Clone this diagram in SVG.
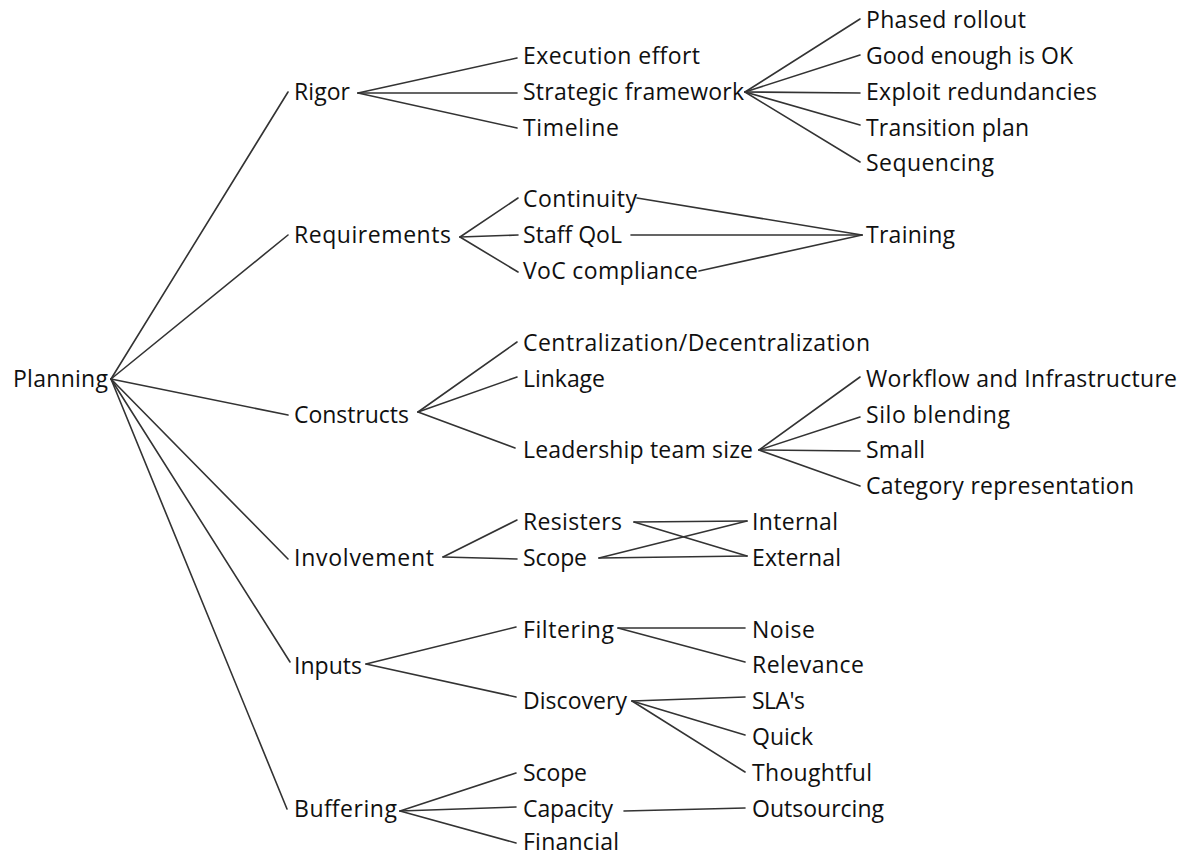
<svg xmlns="http://www.w3.org/2000/svg" width="1186" height="854" viewBox="0 0 1186 854">
  <style>
    .lbl { font-family: "Open Sans", "Noto Sans", "Liberation Sans", sans-serif; font-size: 23px; fill: #101010; }
    .edge { stroke: #333333; stroke-width: 1.6; fill: none; stroke-linecap: round; }
  </style>
  <rect width="1186" height="854" fill="#ffffff"/>

  <!-- connectors -->
  <g id="connectors" class="edge">
    <!-- Planning to first level -->
    <line x1="111" y1="379" x2="288" y2="92"/>
    <line x1="111" y1="379" x2="288" y2="235"/>
    <line x1="111" y1="379" x2="288" y2="415"/>
    <line x1="111" y1="379" x2="288" y2="559"/>
    <line x1="111" y1="379" x2="290" y2="662"/>
    <line x1="111" y1="379" x2="287" y2="809"/>
    <!-- Rigor -->
    <line x1="358" y1="93" x2="517" y2="58"/>
    <line x1="358" y1="93" x2="517" y2="93"/>
    <line x1="358" y1="93" x2="517" y2="128"/>
    <!-- Strategic framework -->
    <line x1="745" y1="92" x2="860" y2="19"/>
    <line x1="745" y1="92" x2="860" y2="55"/>
    <line x1="745" y1="92" x2="860" y2="93"/>
    <line x1="745" y1="92" x2="860" y2="125"/>
    <line x1="745" y1="92" x2="860" y2="162"/>
    <!-- Requirements -->
    <line x1="460" y1="237" x2="518" y2="198"/>
    <line x1="460" y1="237" x2="518" y2="235"/>
    <line x1="460" y1="237" x2="518" y2="272"/>
    <!-- into Training -->
    <line x1="637" y1="198" x2="862" y2="235"/>
    <line x1="631" y1="235" x2="862" y2="235"/>
    <line x1="699" y1="271" x2="862" y2="235"/>
    <!-- Constructs -->
    <line x1="418" y1="412" x2="517" y2="342"/>
    <line x1="418" y1="412" x2="517" y2="377"/>
    <line x1="418" y1="412" x2="515" y2="448"/>
    <!-- Leadership team size -->
    <line x1="759" y1="450" x2="860" y2="377"/>
    <line x1="759" y1="450" x2="860" y2="417"/>
    <line x1="759" y1="450" x2="860" y2="451"/>
    <line x1="759" y1="450" x2="860" y2="486"/>
    <!-- Involvement -->
    <line x1="443" y1="557" x2="517" y2="520"/>
    <line x1="443" y1="557" x2="517" y2="559"/>
    <!-- Resisters / Scope crossing -->
    <line x1="634" y1="522" x2="747" y2="521"/>
    <line x1="634" y1="522" x2="747" y2="556"/>
    <line x1="599" y1="558" x2="747" y2="521"/>
    <line x1="599" y1="558" x2="747" y2="556"/>
    <!-- Inputs -->
    <line x1="366" y1="664" x2="516" y2="627"/>
    <line x1="366" y1="664" x2="516" y2="697"/>
    <!-- Filtering -->
    <line x1="618" y1="628" x2="745" y2="628"/>
    <line x1="618" y1="628" x2="745" y2="662"/>
    <!-- Discovery -->
    <line x1="632" y1="701" x2="745" y2="697"/>
    <line x1="632" y1="701" x2="745" y2="735"/>
    <line x1="632" y1="701" x2="745" y2="772"/>
    <!-- Buffering -->
    <line x1="400" y1="811" x2="516" y2="773"/>
    <line x1="400" y1="811" x2="516" y2="807"/>
    <line x1="400" y1="811" x2="516" y2="843"/>
    <!-- Capacity -->
    <line x1="624" y1="811" x2="745" y2="808"/>
  </g>

  <!-- root -->
  <g id="planning"><text class="lbl" x="13" y="387" textLength="95">Planning</text></g>

  <!-- first level -->
  <g id="rigor"><text class="lbl" x="294" y="100" textLength="56">Rigor</text></g>
  <g id="requirements"><text class="lbl" x="294" y="243" textLength="157">Requirements</text></g>
  <g id="constructs"><text class="lbl" x="294" y="423" textLength="115">Constructs</text></g>
  <g id="involvement"><text class="lbl" x="294" y="566" textLength="140">Involvement</text></g>
  <g id="inputs"><text class="lbl" x="294" y="674" textLength="68">Inputs</text></g>
  <g id="buffering"><text class="lbl" x="294" y="817" textLength="103">Buffering</text></g>

  <!-- Rigor branch -->
  <g id="execution-effort"><text class="lbl" x="523" y="64" textLength="177">Execution effort</text></g>
  <g id="strategic-framework"><text class="lbl" x="523" y="100" textLength="221">Strategic framework</text></g>
  <g id="timeline"><text class="lbl" x="523" y="136" textLength="96">Timeline</text></g>
  <g id="phased-rollout"><text class="lbl" x="866" y="28" textLength="160">Phased rollout</text></g>
  <g id="good-enough"><text class="lbl" x="866" y="64" textLength="207">Good enough is OK</text></g>
  <g id="exploit-redundancies"><text class="lbl" x="866" y="100" textLength="231">Exploit redundancies</text></g>
  <g id="transition-plan"><text class="lbl" x="866" y="136" textLength="163">Transition plan</text></g>
  <g id="sequencing"><text class="lbl" x="866" y="171" textLength="128">Sequencing</text></g>

  <!-- Requirements branch -->
  <g id="continuity"><text class="lbl" x="523" y="207" textLength="114">Continuity</text></g>
  <g id="staff-qol"><text class="lbl" x="523" y="243" textLength="99">Staff QoL</text></g>
  <g id="voc-compliance"><text class="lbl" x="523" y="279" textLength="175">VoC compliance</text></g>
  <g id="training"><text class="lbl" x="866" y="243" textLength="89">Training</text></g>

  <!-- Constructs branch -->
  <g id="centralization"><text class="lbl" x="523" y="351" textLength="347">Centralization/Decentralization</text></g>
  <g id="linkage"><text class="lbl" x="523" y="387" textLength="82">Linkage</text></g>
  <g id="leadership-team-size"><text class="lbl" x="523" y="458" textLength="230">Leadership team size</text></g>
  <g id="workflow"><text class="lbl" x="866" y="387" textLength="311">Workflow and Infrastructure</text></g>
  <g id="silo-blending"><text class="lbl" x="866" y="423" textLength="144">Silo blending</text></g>
  <g id="small"><text class="lbl" x="866" y="458" textLength="59">Small</text></g>
  <g id="category-representation"><text class="lbl" x="866" y="494" textLength="268">Category representation</text></g>

  <!-- Involvement branch -->
  <g id="resisters"><text class="lbl" x="523" y="530" textLength="99">Resisters</text></g>
  <g id="scope-involvement"><text class="lbl" x="523" y="566" textLength="64">Scope</text></g>
  <g id="internal"><text class="lbl" x="752" y="530" textLength="86">Internal</text></g>
  <g id="external"><text class="lbl" x="752" y="566" textLength="89">External</text></g>

  <!-- Inputs branch -->
  <g id="filtering"><text class="lbl" x="523" y="638" textLength="91">Filtering</text></g>
  <g id="discovery"><text class="lbl" x="523" y="709" textLength="104">Discovery</text></g>
  <g id="noise"><text class="lbl" x="752" y="638" textLength="63">Noise</text></g>
  <g id="relevance"><text class="lbl" x="752" y="673" textLength="112">Relevance</text></g>
  <g id="slas"><text class="lbl" x="752" y="709" textLength="53">SLA's</text></g>
  <g id="quick"><text class="lbl" x="752" y="745" textLength="61">Quick</text></g>
  <g id="thoughtful"><text class="lbl" x="752" y="781" textLength="120">Thoughtful</text></g>

  <!-- Buffering branch -->
  <g id="scope-buffering"><text class="lbl" x="523" y="781" textLength="64">Scope</text></g>
  <g id="capacity"><text class="lbl" x="523" y="817" textLength="90">Capacity</text></g>
  <g id="financial"><text class="lbl" x="523" y="850" textLength="96">Financial</text></g>
  <g id="outsourcing"><text class="lbl" x="752" y="817" textLength="132">Outsourcing</text></g>
</svg>
